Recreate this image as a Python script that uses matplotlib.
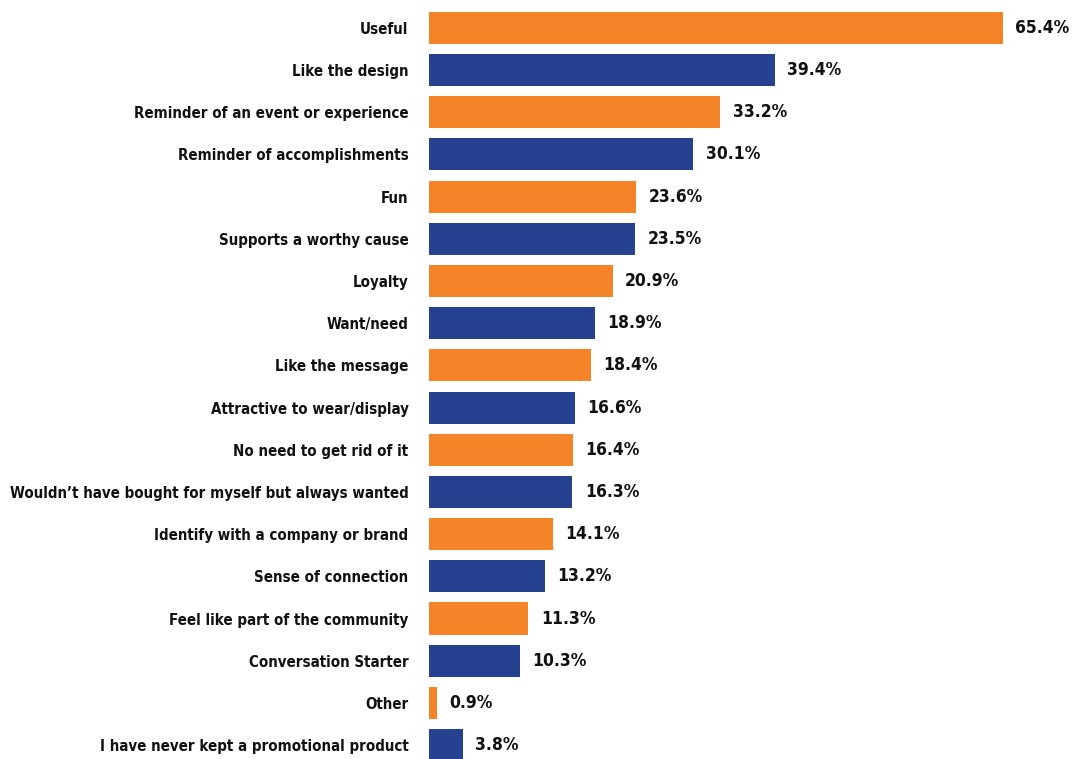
import matplotlib
matplotlib.use("Agg")
import matplotlib.pyplot as plt

labels = ["Useful", "Like the design", "Reminder of an event or experience",
          "Reminder of accomplishments", "Fun", "Supports a worthy cause",
          "Loyalty", "Want/need", "Like the message", "Attractive to wear/display",
          "No need to get rid of it",
          "Wouldn\u2019t have bought for myself but always wanted",
          "Identify with a company or brand", "Sense of connection",
          "Feel like part of the community", "Conversation Starter", "Other",
          "I have never kept a promotional product"]
values = [65.4, 39.4, 33.2, 30.1, 23.6, 23.5, 20.9, 18.9, 18.4, 16.6, 16.4,
          16.3, 14.1, 13.2, 11.3, 10.3, 0.9, 3.8]

orange = "#F48427"
blue = "#26418F"
colors = [orange if i % 2 == 0 else blue for i in range(len(values))]

plt.rcParams['font.family'] = ['DejaVu Sans']
plt.rcParams['font.stretch'] = 'condensed'

fig = plt.figure(figsize=(10.74, 7.59), dpi=100)
ax = fig.add_axes([428 / 1074, 0, 1 - 428 / 1074, 1])

ypos = list(range(len(values)))
ax.barh(ypos, values, height=0.76, color=colors, left=0.15)
ax.set_xlim(0, 73.7)
ax.set_ylim(17.33, -0.66)

ax.set_yticks(ypos)
ax.set_yticklabels(labels, fontsize=14, fontweight="bold", color="#111111")
ax.tick_params(axis="y", length=0, pad=14)
ax.set_xticks([])
for s in ax.spines.values():
    s.set_visible(False)

# fit the longest label to the width it has in the reference (~400 px)
fig.canvas.draw()
r = fig.canvas.get_renderer()
widest = max(t.get_window_extent(r).width for t in ax.get_yticklabels())
fs = 14 * 400 / widest
for t in ax.get_yticklabels():
    t.set_fontsize(fs)

for y, v in zip(ypos, values):
    ax.annotate("{:.1f}%".format(v), xy=(v + 0.15, y), xytext=(9, 0),
                textcoords="offset points", va="center", ha="left",
                fontsize=fs * 1.16, fontweight="bold", color="#111111")

fig.savefig("out.png", dpi=100)
